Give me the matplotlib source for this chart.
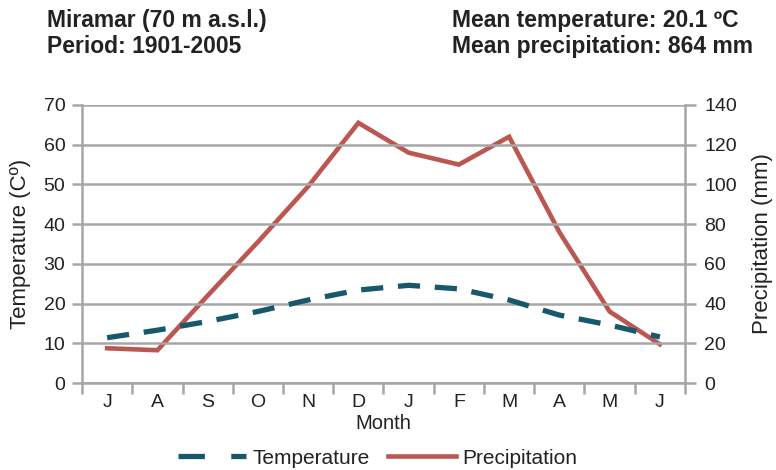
import matplotlib.pyplot as plt
from matplotlib.lines import Line2D

months = ['J', 'A', 'S', 'O', 'N', 'D', 'J', 'F', 'M', 'A', 'M', 'J']
temperature = [11.4, 13.3, 15.5, 18.0, 20.9, 23.4, 24.6, 23.7, 20.9, 17.1, 14.6, 11.6]
precipitation = [17.5, 16.5, 44, 71, 99, 131, 116, 110, 124, 76, 36, 19.5]

grid_col = '#a6a6a6'
temp_col = '#17596a'
prec_col = '#bb5650'
txt_col = '#222222'

plt.rcParams['font.family'] = ['Liberation Sans', 'DejaVu Sans']

fig = plt.figure(figsize=(7.76, 4.70), dpi=100)
ax = fig.add_axes([0.1057, 0.1851, 0.777, 0.5915])
ax2 = ax.twinx()

xs = [i + 0.5 for i in range(len(months))]
ax.set_xlim(0, 12)
ax.set_ylim(0, 70)
ax2.set_ylim(0, 140)
ax.set_yticks(range(0, 71, 10))
ax2.set_yticks(range(0, 141, 20))
ax.set_xticks(range(0, 13))
ax.set_xticklabels([])
ax.set_xticks(xs, minor=True)
ax.set_xticklabels(months, minor=True)

ax.grid(axis='y', color=grid_col, linewidth=1.8)
ax.set_axisbelow(True)
for a in (ax, ax2):
    for s in a.spines.values():
        s.set_visible(False)
for a, side in ((ax, 'left'), (ax, 'bottom'), (ax2, 'right')):
    a.spines[side].set_visible(True)
    a.spines[side].set_color(grid_col)
    a.spines[side].set_linewidth(1.8)

ax.tick_params(axis='y', length=7, width=1.8, color=grid_col, labelsize=14, pad=5, labelcolor=txt_col)
ax2.tick_params(axis='y', length=8, width=1.8, color=grid_col, labelsize=14, pad=6, labelcolor=txt_col)
ax.tick_params(axis='x', which='major', length=8, width=1.8, color=grid_col)
ax.tick_params(axis='x', which='minor', length=0, labelsize=14, pad=8, labelcolor=txt_col)

ax2.plot(xs, precipitation, color=prec_col, linewidth=3.3, solid_joinstyle='miter')
ax.plot(xs, temperature, color=temp_col, linewidth=3.8, dashes=(4.2, 2.8))
ax2.set_zorder(1)
ax.set_zorder(2)
ax.patch.set_visible(False)

ax.set_ylabel('Temperature (Cº)', fontsize=16, labelpad=9, color=txt_col)
ax2.set_ylabel('Precipitation (mm)', fontsize=16, labelpad=11, color=txt_col)
ax.set_xlabel('Month', fontsize=14.5, labelpad=2, color=txt_col)

fig.text(0.0606, 0.9426, 'Miramar (70 m a.s.l.)', fontsize=16.5, fontweight='bold', va='baseline', color=txt_col)
fig.text(0.0606, 0.887, 'Period: 1901-2005', fontsize=16.5, fontweight='bold', va='baseline', color=txt_col)
fig.text(0.5825, 0.9426, 'Mean temperature: 20.1 ºC', fontsize=16.5, fontweight='bold', va='baseline', color=txt_col)
fig.text(0.5825, 0.887, 'Mean precipitation: 864 mm', fontsize=16.5, fontweight='bold', va='baseline', color=txt_col)

handles = [Line2D([], [], color=temp_col, linewidth=3.8, dashes=(5, 5)),
           Line2D([], [], color=prec_col, linewidth=3.3)]
fig.legend(handles, ['Temperature', 'Precipitation'], loc='center', bbox_to_anchor=(0.487, 0.0255),
           ncol=2, frameon=False, fontsize=15, handlelength=3.27, columnspacing=0.87,
           handletextpad=0.3, borderpad=0, labelcolor=txt_col)

fig.savefig('out.png', dpi=100)
